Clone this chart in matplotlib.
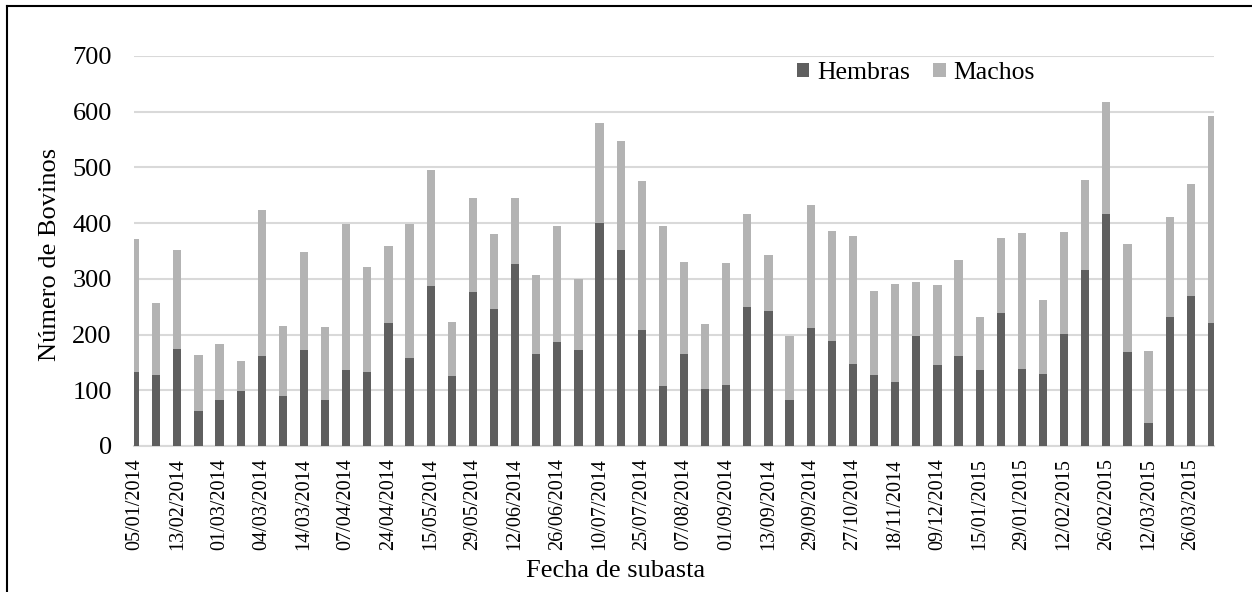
import matplotlib
matplotlib.use("Agg")
import matplotlib.pyplot as plt
from matplotlib.lines import Line2D

# valores (52 subastas)
hembras = [132, 128, 174, 63, 82, 99, 162, 89, 172, 83, 136, 132, 221, 158, 287, 125,
           277, 246, 326, 165, 186, 172, 401, 351, 208, 107, 165, 103, 109, 250, 242, 83,
           211, 189, 147, 127, 115, 198, 145, 162, 136, 239, 138, 130, 201, 316, 417, 169,
           41, 232, 270, 221]
machos = [240, 129, 177, 100, 101, 53, 261, 127, 177, 131, 263, 189, 138, 241, 209, 98,
          168, 134, 119, 142, 209, 127, 179, 196, 267, 288, 165, 116, 219, 167, 101, 115,
          221, 197, 230, 151, 176, 96, 144, 172, 95, 135, 244, 132, 183, 162, 200, 193,
          129, 179, 200, 371]

# solo se ve la etiqueta de una de cada dos barras
fechas = ['05/01/2014', '13/02/2014', '01/03/2014', '04/03/2014', '14/03/2014',
          '07/04/2014', '24/04/2014', '15/05/2014', '29/05/2014', '12/06/2014',
          '26/06/2014', '10/07/2014', '25/07/2014', '07/08/2014', '01/09/2014',
          '13/09/2014', '29/09/2014', '27/10/2014', '18/11/2014', '09/12/2014',
          '15/01/2015', '29/01/2015', '12/02/2015', '26/02/2015', '12/03/2015',
          '26/03/2015']

plt.rcParams['font.family'] = ['Liberation Serif', 'DejaVu Serif']

W, H = 1252, 592
fig = plt.figure(figsize=(W / 100, H / 100), dpi=100)
ax = fig.add_axes([134 / W, 1 - 446 / H, 1080 / W, 390 / H])

x = list(range(len(hembras)))
ax.bar(x, hembras, width=0.39, color='#5f5f5f', label='Hembras', zorder=3)
ax.bar(x, machos, width=0.39, bottom=hembras, color='#b3b3b3', label='Machos', zorder=3)

ax.set_xlim(-0.05, 51.1)
ax.set_ylim(0, 700)
ax.set_yticks(range(0, 701, 100))
ax.set_xticks(x[::2])
ax.set_xticklabels(fechas, rotation=90, fontsize=14.5)
ax.tick_params(axis='y', length=0, pad=16, labelsize=19)
ax.tick_params(axis='x', length=0, pad=9)

ax.grid(axis='y', color='#d9d9d9', linewidth=1.5, zorder=0)
for s in ['left', 'right', 'top']:
    ax.spines[s].set_visible(False)
ax.spines['bottom'].set_color('#d9d9d9')
ax.spines['bottom'].set_linewidth(1.5)

ax.legend(loc='upper right', bbox_to_anchor=(1035 / W, 1 - 62 / H), bbox_transform=fig.transFigure,
          ncol=2, frameon=False, fontsize=18.5, handlelength=0.5, handleheight=0.5,
          handletextpad=0.3, columnspacing=0.9, borderpad=0, borderaxespad=0)

fig.text(50 / W, 1 - 254 / H, 'Número de Bovinos', rotation=90, ha='center', va='center', fontsize=19)
fig.text(616 / W, 1 - 571 / H, 'Fecha de subasta', ha='center', va='center', fontsize=19)

# borde del area del grafico (solo se ve a la izquierda y arriba)
fig.add_artist(Line2D([6.5 / W, 6.5 / W], [0, 1 - 5.5 / H], transform=fig.transFigure,
                      color='black', linewidth=1.5))
fig.add_artist(Line2D([6.5 / W, 1], [1 - 5.5 / H, 1 - 5.5 / H], transform=fig.transFigure,
                      color='black', linewidth=1.5))

fig.savefig('out.png', dpi=100)
